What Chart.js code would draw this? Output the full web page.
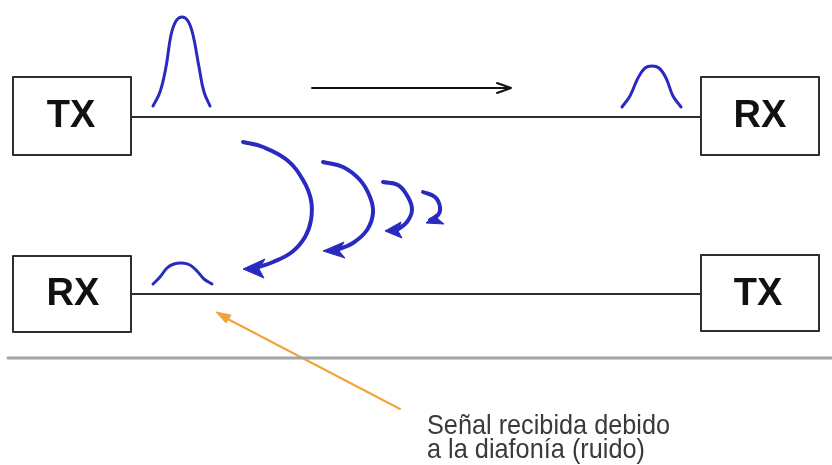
<!DOCTYPE html>
<html>
<head>
<meta charset="utf-8">
<title>Diafonía</title>
<script src="https://cdn.jsdelivr.net/npm/chart.js@4/dist/chart.umd.min.js"></script>
<style>
  html, body { margin: 0; padding: 0; background: #fff; }
  #wrap { width: 832px; height: 465px; position: relative; }
</style>
</head>
<body>
<div id="wrap"><canvas id="diagram"></canvas></div>
<script>
// shapes, in picture pixels (x right, y down)
const boxTopTx = [[13,77],[131,77],[131,155],[13,155],[13,77]];
const boxTopRx = [[701,77],[819,77],[819,155],[701,155],[701,77]];
const boxBotRx = [[13,256],[131,256],[131,332],[13,332],[13,256]];
const boxBotTx = [[701,255],[819,255],[819,331],[701,331],[701,255]];
const lineTop = [[131,117],[701,117]];
const lineBot = [[131,294],[701,294]];
const arrowShaft = [[312,88],[510,88]];
const arrowHead = [[497,83],[511,88],[497,93]];

const pulseSent = [[153,106],[160,92],[166,67],[171,35],[176,21],[182,17],[188,21],[193,35],[199,67],[204,92],[210,106]];
const pulseRecv = [[622,107],[630,96],[638,78],[645,68],[652,66],[659,68],[666,78],[673,96],[681,107]];
const pulseNoise = [[153,284],[160,277],[167,268],[174,264],[182,263],[190,265],[197,271],[204,279],[212,284]];

const arc1 = [[243,142],[263,147],[287,160],[303,180],[311,200],[311,220],[305,237],[292,252],[273,262],[256,268]];
const arc2 = [[323,162],[343,167],[360,180],[370,197],[373,213],[367,230],[353,243],[337,250]];
const arc3 = [[383,182],[398,185],[408,197],[412,210],[407,222],[397,230]];
const arc4 = [[423,192],[435,197],[440,207],[438,215],[430,220]];
const head1 = [[243,269],[265,259],[259,269],[264,278],[243,269]];
const head2 = [[323,251],[344,242],[339,251],[345,258],[323,251]];
const head3 = [[385,231],[401,222],[398,231],[402,238],[385,231]];
const head4 = [[426,223],[436,214],[438,219],[444,224],[426,223]];

const separator = [[8,358],[832,358]];
const pointer = [[400,409],[222,316]];
const pointerHead = [[216,312],[231,315],[226,323],[216,312]];

const boxLabels = ['TX', 'RX', 'RX', 'TX'];
const boxLabelPos = [[71,116],[760,116],[73,294],[758,294]];
const captionLines = ['Señal recibida debido', 'a la diafonía (ruido)'];
const captionPos = [[427,434],[427,458]];
const captionWidths = [243, 218];

const toXY = pts => pts.map(p => ({ x: p[0], y: p[1] }));

function stroke(pts, color, width, tension) {
    return {
        data: toXY(pts),
        showLine: true,
        borderColor: color,
        borderWidth: width,
        pointRadius: 0,
        tension: tension || 0,
        fill: false,
        borderCapStyle: 'round',
        borderJoinStyle: 'round'
    };
}

function solid(pts, color) {
    return {
        data: toXY(pts),
        showLine: true,
        borderColor: color,
        backgroundColor: color,
        borderWidth: 1,
        pointRadius: 0,
        tension: 0,
        fill: 'shape'
    };
}

const blue = '#2a2ac0';
const ink = '#2e2e2e';
const orange = '#f2a33a';

const labelPlugin = {
    id: 'labels',
    afterDatasetsDraw(chart) {
        const ctx = chart.ctx;
        const sx = chart.scales.x, sy = chart.scales.y;
        ctx.save();
        ctx.fillStyle = '#111';
        ctx.font = 'bold 38px "Liberation Sans", Arial, sans-serif';
        ctx.textAlign = 'center';
        ctx.textBaseline = 'middle';
        boxLabels.forEach((t, i) => {
            ctx.fillText(t, sx.getPixelForValue(boxLabelPos[i][0]), sy.getPixelForValue(boxLabelPos[i][1]) + 1);
        });

        ctx.fillStyle = '#3a3a3a';
        ctx.font = '28px "Liberation Sans", Arial, sans-serif';
        ctx.textAlign = 'left';
        ctx.textBaseline = 'alphabetic';
        captionLines.forEach((t, i) => {
            const w = ctx.measureText(t).width;
            const x = sx.getPixelForValue(captionPos[i][0]);
            const y = sy.getPixelForValue(captionPos[i][1]);
            ctx.save();
            ctx.translate(x, y);
            ctx.scale(captionWidths[i] / w, 1);
            ctx.fillText(t, 0, 0);
            ctx.restore();
        });
        ctx.restore();
    }
};

new Chart(document.getElementById('diagram'), {
    type: 'scatter',
    data: {
        datasets: [
            stroke(separator, '#a4a4a4', 3),
            stroke(boxTopTx, ink, 2),
            stroke(boxTopRx, ink, 2),
            stroke(boxBotRx, ink, 2),
            stroke(boxBotTx, ink, 2),
            stroke(lineTop, ink, 2),
            stroke(lineBot, ink, 2),
            stroke(arrowShaft, '#111', 2),
            stroke(arrowHead, '#111', 2),
            stroke(pulseSent, blue, 3, 0.4),
            stroke(pulseRecv, blue, 3, 0.4),
            stroke(pulseNoise, blue, 3, 0.4),
            stroke(arc1, blue, 4, 0.4),
            stroke(arc2, blue, 4, 0.4),
            stroke(arc3, blue, 4, 0.4),
            stroke(arc4, blue, 4, 0.4),
            solid(head1, blue),
            solid(head2, blue),
            solid(head3, blue),
            solid(head4, blue),
            stroke(pointer, orange, 2),
            solid(pointerHead, orange)
        ]
    },
    options: {
        responsive: true,
        maintainAspectRatio: false,
        animation: false,
        layout: { padding: 0 },
        scales: {
            x: { type: 'linear', min: 0, max: 832, display: false },
            y: { type: 'linear', min: 0, max: 465, reverse: true, display: false }
        },
        plugins: {
            legend: { display: false },
            tooltip: { enabled: false }
        },
        events: []
    },
    plugins: [labelPlugin]
});
</script>
</body>
</html>
